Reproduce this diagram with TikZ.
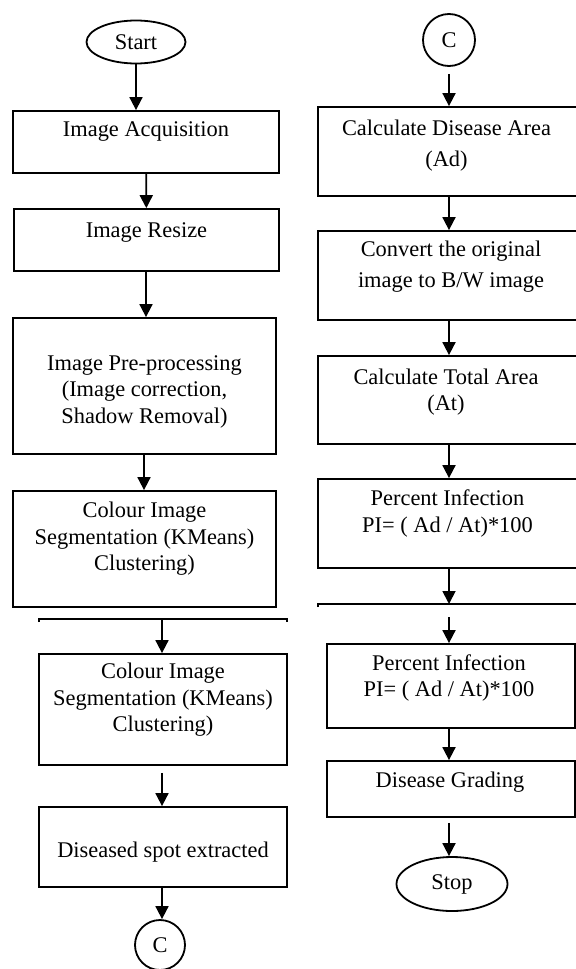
\documentclass[tikz,border=0pt]{standalone}
\usepackage{fontspec}
\setmainfont{Liberation Serif}
\usetikzlibrary{shapes.geometric,arrows.meta}

\begin{document}
\begin{tikzpicture}[x=0.5pt, y=-0.5pt, line width=0.9pt,
    every node/.style={align=center, font=\fontsize{11.2}{13.25}\selectfont},
    stepbox/.style={draw, rectangle, inner sep=0pt},
    term/.style={draw, ellipse, inner sep=0pt},
    conn/.style={draw, circle, inner sep=0pt},
    widetext/.style={font=\fontsize{11.2}{15.5}\selectfont},
    flow/.style={-{Triangle[length=6.5pt,width=6.5pt]}}]

    \useasboundingbox (0,0) rectangle (576,969);
    \clip (0,0) rectangle (576,969);

    % left column
    \node[term, minimum width=49.5pt, minimum height=21.5pt] (start) at (136,42) {Start};
    \node[stepbox, minimum width=133pt, minimum height=31pt] (acq) at (146,142) {};
    \node (acqT) at (146,132) {Image Acquisition};
    \node[stepbox, minimum width=132.5pt, minimum height=31pt] (resize) at (146.5,240) {};
    \node (resizeT) at (146.5,232) {Image Resize};
    \node[stepbox, minimum width=131.5pt, minimum height=68pt] (pre) at (144.5,386) {};
    \node (preT) at (144.5,391.5) {Image Pre-processing\\(Image correction,\\Shadow Removal)};
    \node[stepbox, minimum width=131.5pt, minimum height=58pt] (segA) at (144.5,549) {};
    \node (segAT) at (144.5,539) {Colour Image\\Segmentation (KMeans)\\Clustering)};

    \draw (39,622) -- (39,619) -- (287,619) -- (287,622);
    \coordinate (cutL) at (162,619);

    \node[stepbox, minimum width=124pt, minimum height=55.5pt] (segB) at (163,709.5) {};
    \node (segBT) at (163,700) {Colour Image\\Segmentation (KMeans)\\Clustering)};
    \node[stepbox, minimum width=124pt, minimum height=40pt] (spot) at (163,847) {};
    \node (spotT) at (163,852) {Diseased spot extracted};
    \node[conn, minimum size=25pt] (cL) at (160,945) {C};

    \coordinate (colL) at (146,0);
    \coordinate (colM) at (144,0);

    \draw[flow] (start) -- (start |- acq.north);
    \draw[flow] (acq) -- (resize);
    \draw[flow] (colL |- resize.south) -- (colL |- pre.north);
    \draw[flow] (colM |- pre.south) -- (colM |- segA.north);
    \draw[flow] (cutL) -- (cutL |- segB.north);
    \draw[flow, shorten <=3.5pt] (cutL |- segB.south) -- (cutL |- spot.north);
    \draw[flow] (cutL |- spot.south) -- (cutL |- cL.north);

    % right column
    \node[conn, minimum size=26pt] (cR) at (449,40) {C};
    \node[stepbox, minimum width=136pt, minimum height=44.5pt] (area) at (454,151.5) {};
    \node[widetext] (areaT) at (446.5,145.5) {Calculate Disease Area\\(Ad)};
    \node[stepbox, minimum width=136pt, minimum height=44.5pt] (conv) at (454,275.5) {};
    \node[widetext] (convT) at (451,267) {Convert the original\\image to B/W image};
    \node[stepbox, minimum width=136pt, minimum height=44pt] (total) at (454,400) {};
    \node (totalT) at (446,392) {Calculate Total Area\\(At)};
    \node[stepbox, minimum width=136pt, minimum height=44.5pt] (pctA) at (454,523.5) {};
    \node (pctAT) at (447.5,513.5) {Percent Infection\\PI= ( Ad / At)*100};

    \draw (318,607) -- (318,604) -- (590,604);
    \coordinate (cutR) at (449,604);

    \node[stepbox, minimum width=124pt, minimum height=42pt] (pctB) at (451,686) {};
    \node (pctBT) at (449,678) {Percent Infection\\PI= ( Ad / At)*100};
    \node[stepbox, minimum width=124pt, minimum height=28pt] (grade) at (451,789) {};
    \node (gradeT) at (450,782) {Disease Grading};
    \node[term, minimum width=55.5pt, minimum height=27pt] (stop) at (452,884) {Stop};

    \draw[flow, shorten <=3.5pt] (cR) -- (cR |- area.north);
    \draw[flow] (cR |- area.south) -- (cR |- conv.north);
    \draw[flow] (cR |- conv.south) -- (cR |- total.north);
    \draw[flow] (cR |- total.south) -- (cR |- pctA.north);
    \draw[flow] (cR |- pctA.south) -- (cutR);
    \draw[flow, shorten <=6.5pt] (cutR) -- (cutR |- pctB.north);
    \draw[flow] (cR |- pctB.south) -- (cR |- grade.north);
    \draw[flow, shorten <=2.5pt] (cR |- grade.south) -- (cR |- stop.north);
\end{tikzpicture}
\end{document}
